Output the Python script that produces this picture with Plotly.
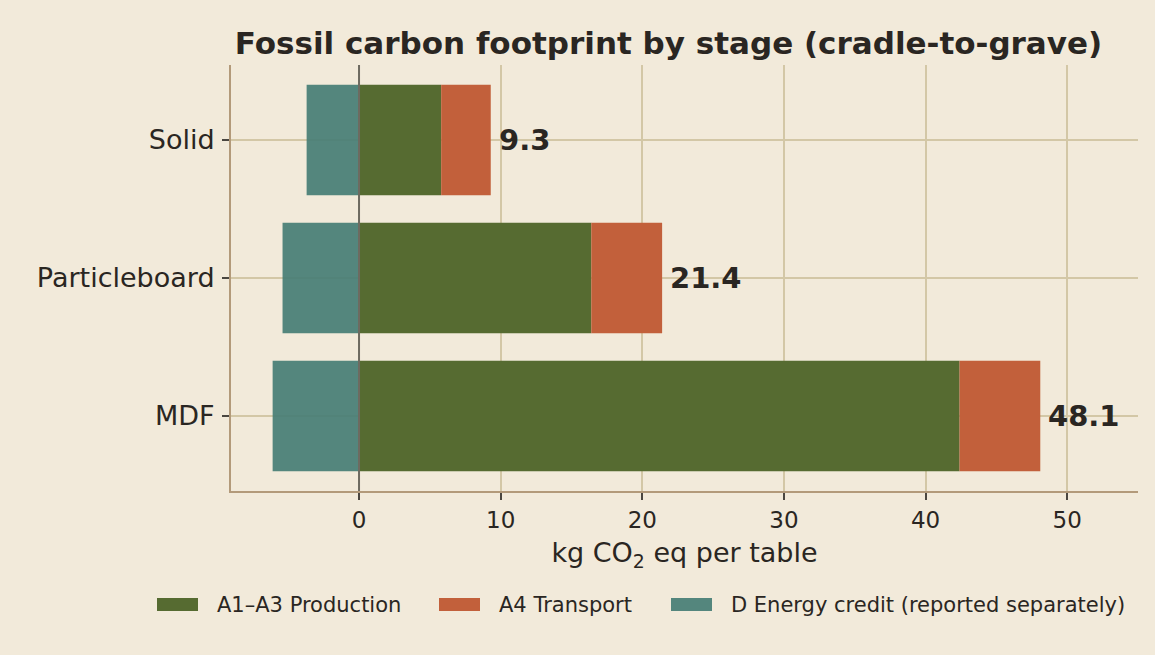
import plotly.graph_objects as go

# ── Data ──────────────────────────────────────────────────────────────────────
products   = ["Solid", "Particleboard", "MDF"]
production = [5.8, 16.4, 42.4]   # A1–A3
transport  = [3.5, 5.0, 5.7]     # A4
credit     = [-3.7, -5.4, -6.1]  # D (reported separately)
totals     = [9.3, 21.4, 48.1]
series     = ["A1–A3 Production", "A4 Transport", "D Energy credit (reported separately)"]

# ── Style ─────────────────────────────────────────────────────────────────────
BG      = "#f2eada"
INK     = "#2a2622"
GRID    = "#d3c7a6"
AXIS    = "#b39a7a"
GREEN   = "#566b31"
ORANGE  = "#c2603b"
TEAL    = "rgba(70,125,117,0.92)"
FONT    = "DejaVu Sans"
COLORS  = [GREEN, ORANGE, TEAL]

W, H = 1155, 655
L, R, T, B = 231, 17, 65, 164
PW, PH = W - L - R, H - T - B


def px_to_paper(px, py):
    return (px - L) / PW, (H - B - py) / PH


fig = go.Figure()

for name, vals, col in zip(series, [production, transport, credit], COLORS):
    fig.add_trace(go.Bar(
        y=products, x=vals, orientation="h", name=name,
        marker=dict(color=col, line=dict(width=0)), width=0.8,
        showlegend=False,
    ))

# total labels
for p, t in zip(products, totals):
    fig.add_annotation(
        x=t, y=p, text=f"<b>{t:.1f}</b>", showarrow=False,
        xanchor="left", xshift=6,
        font=dict(family=FONT, size=29, color=INK),
    )

# zero reference line drawn above the bars
fig.add_shape(
    type="line", xref="x", yref="paper", x0=0, x1=0, y0=0, y1=1,
    line=dict(color="#6e6a60", width=2), layer="above",
)

# ── Legend (wide swatches, like the original) ─────────────────────────────────
legend_x = [157, 439, 671]
for name, col, lx in zip(series, COLORS, legend_x):
    x0, y0 = px_to_paper(lx, 611)
    x1, y1 = px_to_paper(lx + 41, 598)
    fig.add_shape(type="rect", xref="paper", yref="paper",
                  x0=x0, x1=x1, y0=y0, y1=y1,
                  fillcolor=col, line=dict(width=0))
    tx, ty = px_to_paper(lx + 58, 605)
    fig.add_annotation(x=tx, y=ty, xref="paper", yref="paper", text=name,
                       showarrow=False, xanchor="left", yanchor="middle",
                       font=dict(family=FONT, size=21, color=INK))

fig.update_layout(
    width=W, height=H,
    paper_bgcolor=BG, plot_bgcolor=BG,
    font=dict(family=FONT, color=INK),
    barmode="relative",
    showlegend=False,
    margin=dict(l=L, r=R, t=T, b=B),
    title=dict(
        text="<b>Fossil carbon footprint by stage (cradle-to-grave)</b>",
        x=(231 + 1106) / 2 / W, xanchor="center", xref="container",
        y=1 - 43 / H, yanchor="middle", yref="container",
        font=dict(family=FONT, size=31, color=INK),
    ),
    xaxis=dict(
        range=[-9.04, 55.0],
        tickvals=[0, 10, 20, 30, 40, 50],
        tickfont=dict(family=FONT, size=23, color=INK),
        title=dict(text="kg CO<sub>2</sub> eq per table", standoff=12,
                   font=dict(family=FONT, size=27, color=INK)),
        showgrid=True, gridcolor=GRID, gridwidth=2,
        zeroline=False,
        showline=True, linecolor=AXIS, linewidth=2,
        ticks="outside", ticklen=7, tickwidth=2, tickcolor="#4a4640",
    ),
    yaxis=dict(
        categoryorder="array", categoryarray=products[::-1],
        range=[-0.543, 2.543],
        tickfont=dict(family=FONT, size=27, color=INK),
        showgrid=True, gridcolor=GRID, gridwidth=2,
        showline=True, linecolor=AXIS, linewidth=2,
        ticks="outside", ticklen=7, tickwidth=2, tickcolor="#4a4640",
        ticklabelstandoff=2,
    ),
)

fig.write_html("out.html", config={"displayModeBar": False},
               post_script="document.body.style.margin='0';")
